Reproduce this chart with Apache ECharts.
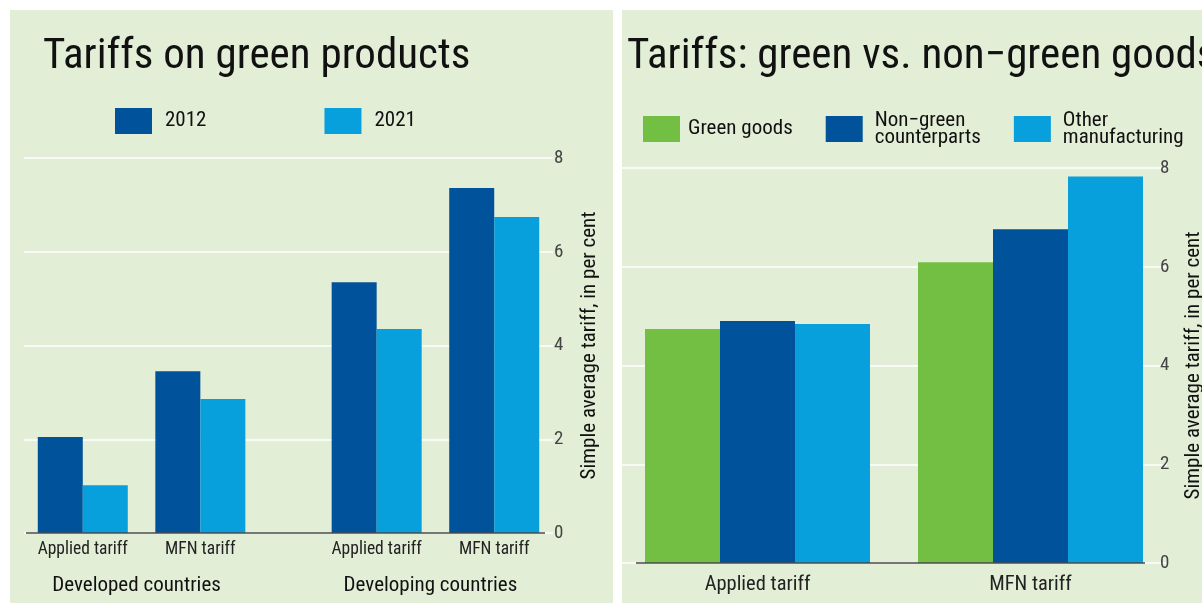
<!DOCTYPE html>
<html>
<head>
<meta charset="utf-8">
<script src="https://cdn.jsdelivr.net/npm/echarts@6/dist/echarts.min.js"></script>
<style>
  html, body { margin: 0; padding: 0; background: #fff; }
  #chart { width: 1202px; height: 605px; }
</style>
</head>
<body>
<div id="chart"></div>
<script>
// left chart: green products, by country group
const years = ['2012', '2021'];
const countryGroups = ['Developed countries', 'Developing countries'];
const tariffTypes = ['Applied tariff', 'MFN tariff'];
// order: developed applied, developed MFN, developing applied, developing MFN
const tariff2012 = [2.05, 3.45, 5.35, 7.36];
const tariff2021 = [1.02, 2.86, 4.35, 6.74];

// right chart: green vs non-green goods
const goodsSeries = ['Green goods', 'Non-green counterparts', 'Other manufacturing'];
const goodsLegend = ['Green goods', 'Non\u2212green\ncounterparts', 'Other\nmanufacturing'];
const greenGoods = [4.74, 6.09];
const nonGreenGoods = [4.90, 6.76];
const otherManufacturing = [4.84, 7.83];

const yTicks = [0, 2, 4, 6, 8];

const FONT = "'Roboto Condensed', 'Liberation Sans Narrow', 'DejaVu Sans Condensed', Roboto, sans-serif";
const DARK_BLUE = '#00529a';
const LIGHT_BLUE = '#079fdc';
const GREEN = '#72bf44';
const PANEL = '#e2eed6';
const AXIS = '#4a4a4a';

// left x axis: 10 slots, bars sit on slots 1,3 and 6,8, group labels on 2 and 7
const SLOTS = 10;
const barSlots = [1, 3, 6, 8];
const groupSlots = [2, 7];
const slotLabels = new Array(SLOTS).fill('');
const groupLabels = new Array(SLOTS).fill('');
barSlots.forEach((s, i) => { slotLabels[s] = tariffTypes[i % 2]; });
groupSlots.forEach((s, i) => { groupLabels[s] = countryGroups[i]; });
function toSlots(values) {
  const out = new Array(SLOTS).fill(null);
  barSlots.forEach((s, i) => { out[s] = values[i]; });
  return out;
}

const chart = echarts.init(document.getElementById('chart'), null, { renderer: 'canvas' });

const yAxisCommon = {
  type: 'value',
  position: 'right',
  min: 0,
  max: yTicks[yTicks.length - 1],
  interval: 2,
  name: 'Simple average tariff, in per cent',
  nameLocation: 'middle',
  nameRotate: 90,
  nameTextStyle: { fontFamily: FONT, fontSize: 21, color: '#111' },
  axisLine: { show: false },
  axisTick: { show: false },
  axisLabel: { fontFamily: FONT, fontSize: 19, color: '#444', margin: 9 },
  splitLine: { show: true, lineStyle: { color: '#ffffff', width: 1.5 } }
};

const legendText = { fontFamily: FONT, fontSize: 21, color: '#111' };

chart.setOption({
  backgroundColor: '#ffffff',
  animation: false,
  title: [
    { text: 'Tariffs on green products', left: 43, top: 36, padding: 0,
      textStyle: { fontFamily: FONT, fontSize: 43, fontWeight: 'normal', color: '#111' } },
    { text: 'Tariffs: green vs. non\u2212green goods', left: 627, top: 36, padding: 0,
      textStyle: { fontFamily: FONT, fontSize: 43, fontWeight: 'normal', color: '#111' } }
  ],
  legend: [
    { data: years.map(y => ({ name: y })), left: 115, top: 108, padding: 0,
      itemWidth: 37, itemHeight: 26, itemGap: 118, icon: 'rect',
      textStyle: Object.assign({ padding: [0, 0, 0, 8] }, legendText) },
    { data: goodsSeries.map((n, i) => ({
        name: n,
        textStyle: Object.assign({ padding: [0, 0, 0, i === 0 ? 3 : 7], lineHeight: 17 }, legendText)
      })),
      left: 643, top: 110, padding: 0,
      itemWidth: 37, itemHeight: 26, itemGap: 33, icon: 'rect',
      formatter: name => goodsLegend[goodsSeries.indexOf(name)],
      textStyle: Object.assign({ lineHeight: 17 }, legendText) }
  ],
  grid: [
    { left: 24, right: 1202 - 553, top: 158, bottom: 605 - 533, outerBoundsMode: 'none' },
    { left: 621, right: 1202 - 1167, top: 168, bottom: 605 - 563, outerBoundsMode: 'none' }
  ],
  xAxis: [
    { type: 'category', gridIndex: 0, data: slotLabels, boundaryGap: false,
      axisLine: { show: false }, axisTick: { show: false },
      axisLabel: { interval: 0, fontFamily: FONT, fontSize: 17.5, color: '#222', margin: 8 },
      splitLine: { show: false } },
    { type: 'category', gridIndex: 0, data: groupLabels, boundaryGap: false, position: 'bottom', offset: 34,
      axisLine: { show: false }, axisTick: { show: false },
      axisLabel: { interval: 0, fontFamily: FONT, fontSize: 21, color: '#111', margin: 8, padding: [0, 10, 0, 0] },
      splitLine: { show: false } },
    { type: 'category', gridIndex: 1, data: tariffTypes,
      axisLine: { show: false }, axisTick: { show: false },
      axisLabel: { fontFamily: FONT, fontSize: 20.5, color: '#222', margin: 11 },
      splitLine: { show: false } }
  ],
  yAxis: [
    Object.assign({}, yAxisCommon, { gridIndex: 0, offset: -8, nameGap: 34 }),
    Object.assign({}, yAxisCommon, { gridIndex: 1, offset: -16, nameGap: 32 })
  ],
  series: [
    { name: years[0], type: 'bar', xAxisIndex: 0, yAxisIndex: 0, data: toSlots(tariff2012),
      barWidth: 45, barGap: '0%', itemStyle: { color: DARK_BLUE } },
    { name: years[1], type: 'bar', xAxisIndex: 0, yAxisIndex: 0, data: toSlots(tariff2021),
      barWidth: 45, barGap: '0%', itemStyle: { color: LIGHT_BLUE } },
    { name: goodsSeries[0], type: 'bar', xAxisIndex: 2, yAxisIndex: 1, data: greenGoods,
      barWidth: 75, barGap: '0%', itemStyle: { color: GREEN } },
    { name: goodsSeries[1], type: 'bar', xAxisIndex: 2, yAxisIndex: 1, data: nonGreenGoods,
      barWidth: 75, barGap: '0%', itemStyle: { color: DARK_BLUE } },
    { name: goodsSeries[2], type: 'bar', xAxisIndex: 2, yAxisIndex: 1, data: otherManufacturing,
      barWidth: 75, barGap: '0%', itemStyle: { color: LIGHT_BLUE } }
  ]
});

// panels + baselines (the axis line stops short of the value axis in the original)
const y0Left = chart.convertToPixel({ yAxisIndex: 0 }, 0);
const y0Right = chart.convertToPixel({ yAxisIndex: 1 }, 0);
chart.setOption({
  graphic: [
    { type: 'rect', z: -10, shape: { x: 10, y: 10, width: 603, height: 593 }, style: { fill: PANEL } },
    { type: 'rect', z: -10, shape: { x: 622, y: 10, width: 600, height: 593 }, style: { fill: PANEL } },
    { type: 'line', z: 10, shape: { x1: 26, y1: y0Left, x2: 545, y2: y0Left },
      style: { stroke: AXIS, lineWidth: 1.5 } },
    { type: 'line', z: 10, shape: { x1: 636, y1: y0Right, x2: 1145, y2: y0Right },
      style: { stroke: AXIS, lineWidth: 1.5 } }
  ]
});
</script>
</body>
</html>
